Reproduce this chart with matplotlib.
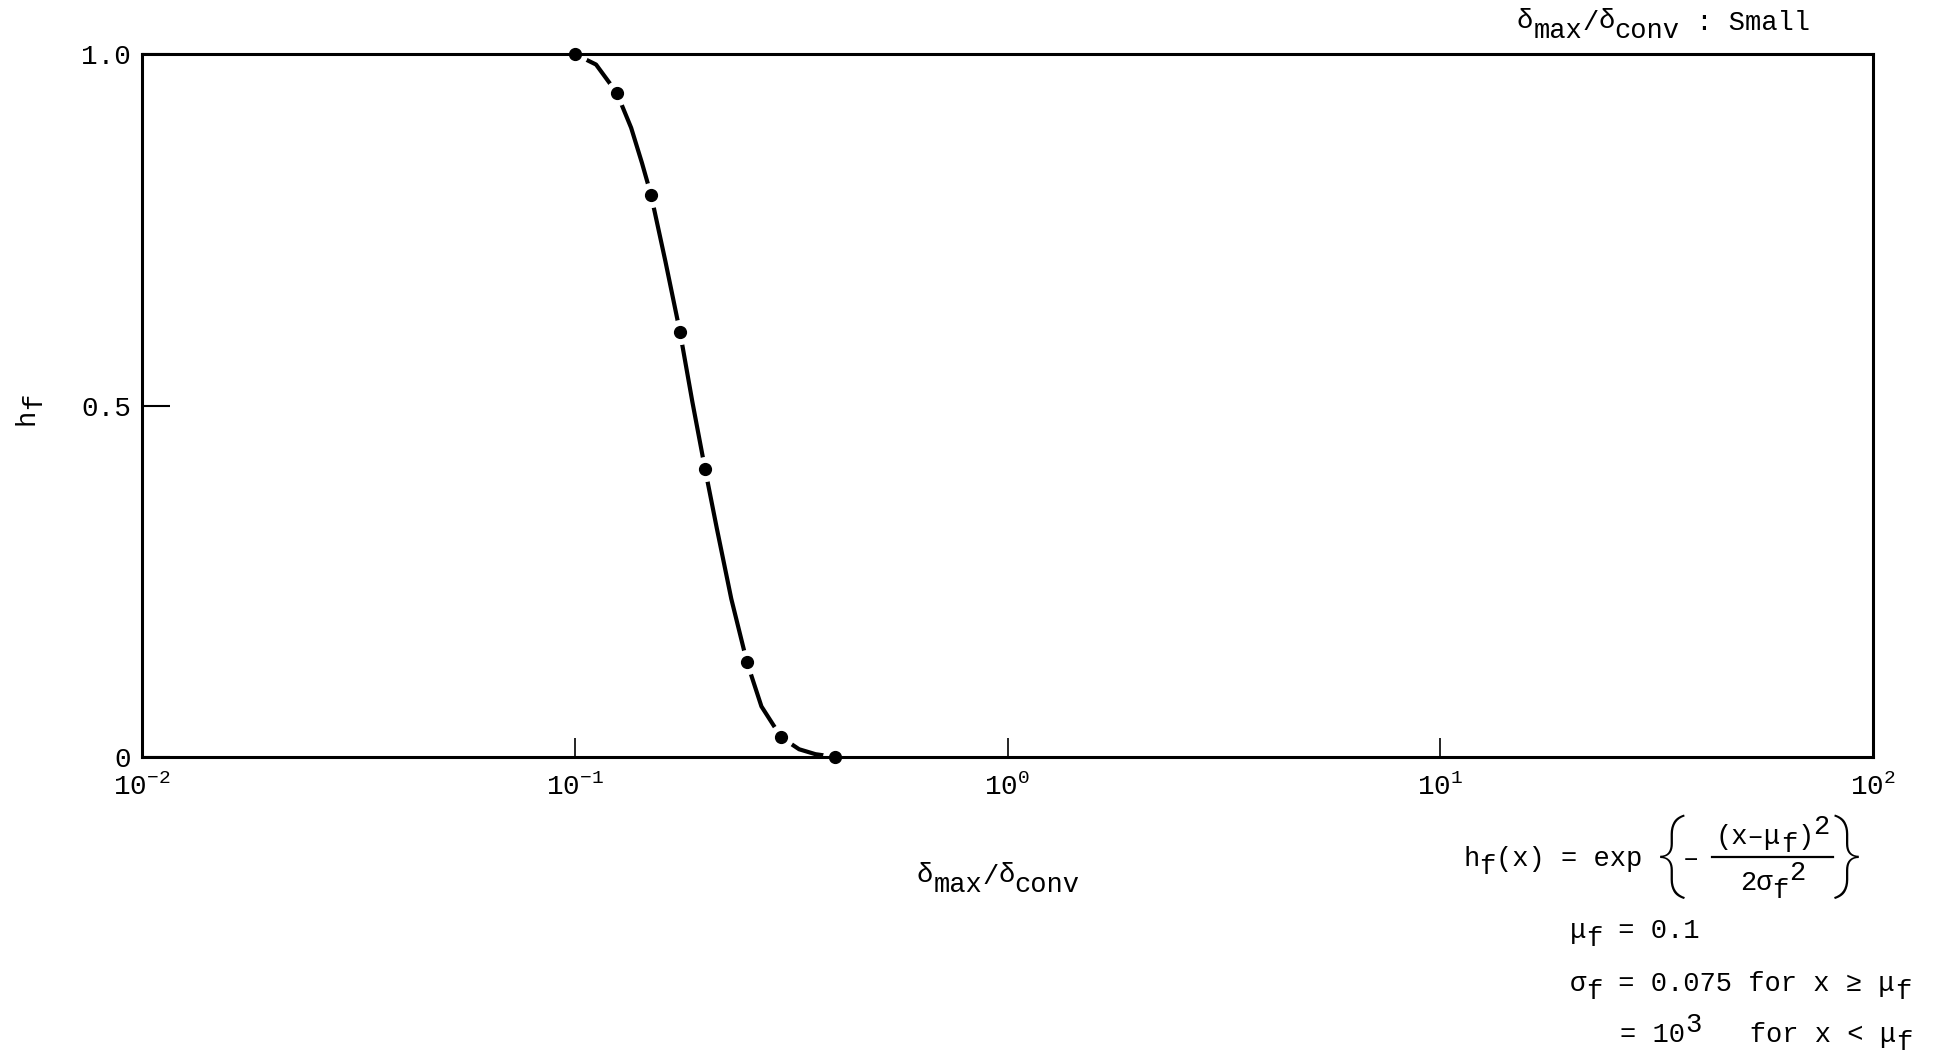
import matplotlib
matplotlib.use("Agg")
import matplotlib.pyplot as plt
from matplotlib.lines import Line2D
from matplotlib.ticker import FixedLocator, FixedFormatter, NullLocator

# ---------------------------------------------------------------------------
# Data
# ---------------------------------------------------------------------------
# plotted dots
ratio = [0.1, 0.125, 0.15, 0.175, 0.2, 0.25, 0.3, 0.4]
h_f = [1.0, 0.945, 0.80, 0.605, 0.41, 0.135, 0.028, 0.0]

# hand-drawn curve through the dots
curve_x = [0.1, 0.112, 0.125, 0.135, 0.143, 0.15, 0.162, 0.175, 0.187, 0.2,
           0.213, 0.23, 0.25, 0.27, 0.3, 0.33, 0.36, 0.4]
curve_y = [1.0, 0.985, 0.945, 0.895, 0.845, 0.80, 0.705, 0.605, 0.505, 0.41,
           0.325, 0.225, 0.135, 0.072, 0.028, 0.011, 0.004, 0.0]

x_ticks = [0.01, 0.1, 1.0, 10.0, 100.0]
x_tick_labels = [r"$10^{-2}$", r"$10^{-1}$", r"$10^{0}$", r"$10^{1}$", r"$10^{2}$"]
y_ticks = [0.0, 0.5, 1.0]
y_tick_labels = ["0", "0.5", "1.0"]

# ---------------------------------------------------------------------------
# Style: typewriter look
# ---------------------------------------------------------------------------
FONT = ["Liberation Mono", "DejaVu Sans Mono", "DejaVu Sans"]
plt.rcParams["font.family"] = FONT
plt.rcParams["mathtext.fontset"] = "custom"
plt.rcParams["mathtext.rm"] = "Liberation Mono"
plt.rcParams["mathtext.it"] = "Liberation Mono"
plt.rcParams["mathtext.bf"] = "Liberation Mono:bold"
plt.rcParams["mathtext.sf"] = "Liberation Mono"

W, H = 1937, 1057
SIZE = 19.5
PX = 100 / 72  # pixels per point

fig = plt.figure(figsize=(W / 100, H / 100), dpi=100)
ax = fig.add_axes([142 / W, 1 - 757 / H, (1873 - 142) / W, (757 - 54) / H])


def typed(x, y, pieces, size=SIZE, rotation=0):
    """Typewriter-style text: each piece is (string, baseline shift in em).

    x, y are pixels from the top-left; y is the baseline.
    """
    adv = 0.6 * size * PX
    pos = 0.0
    for s, shift in pieces:
        dy = shift * size * PX
        if rotation == 90:
            px, py = x - dy, y - pos
        else:
            px, py = x + pos, y - dy
        fig.text(px / W, 1 - py / H, s, fontsize=size, rotation=rotation,
                 ha="left", va="baseline", rotation_mode="anchor")
        pos += adv * len(s)


ax.set_xscale("log")
ax.set_xlim(0.01, 100)
ax.set_ylim(0, 1.0)

# curve, with small gaps around each dot
ax.plot(curve_x, curve_y, color="black", linewidth=3.0, zorder=3,
        clip_on=False, solid_capstyle="round")
ax.plot(ratio, h_f, linestyle="none", marker="o", markersize=17,
        color="white", zorder=4, clip_on=False)
ax.plot(ratio, h_f, linestyle="none", marker="o", markersize=8.5,
        color="black", zorder=5, clip_on=False)

for s in ax.spines.values():
    s.set_linewidth(2.2)
    s.set_zorder(6)

ax.xaxis.set_major_locator(FixedLocator(x_ticks))
ax.xaxis.set_major_formatter(FixedFormatter(x_tick_labels))
ax.xaxis.set_minor_locator(NullLocator())
ax.yaxis.set_major_locator(FixedLocator(y_ticks))
ax.yaxis.set_major_formatter(FixedFormatter(y_tick_labels))
ax.tick_params(axis="x", direction="in", length=14, width=1.2, labelsize=20, pad=12)
ax.tick_params(axis="y", direction="in", length=20, width=1.5, labelsize=20, pad=8)

SUB = -0.28
SUP = 0.38

# top-right title
typed(1517, 30, [("δ", 0.08), ("max", SUB), ("/", 0), ("δ", 0.08), ("conv", SUB),
                 (" : Small", 0)])

# axis labels
typed(917, 884, [("δ", 0.08), ("max", SUB), ("/", 0), ("δ", 0.08), ("conv", SUB)])
typed(34, 425, [("h", 0), ("f", SUB)], rotation=90)

# formula block
typed(1463, 866, [("h", 0), ("f", SUB), ("(x) = exp", 0)])
for bx, ch in [(1671, "{"), (1848, "}")]:
    fig.text(bx / W, 1 - 857 / H, ch, fontsize=62, ha="center", va="center",
             family=["Roboto", "DejaVu Sans"], fontweight="light")
typed(1683, 866, [("–", 0)])
typed(1716, 844, [("(x–μ", 0), ("f", SUB), (")", 0), ("2", SUP)])
fig.add_artist(Line2D([1712 / W, 1833 / W], [1 - 857 / H, 1 - 857 / H],
                      color="black", linewidth=1.6))
typed(1740, 890, [("2σ", 0), ("f", SUB), ("2", SUP)])

typed(1570, 938, [("μ", 0), ("f", SUB), (" = 0.1", 0)])
typed(1570, 991, [("σ", 0), ("f", SUB), (" = 0.075 for x ≥ μ", 0), ("f", SUB)])
typed(1620, 1042, [("= 10", 0), ("3", SUP), ("   for x < μ", 0), ("f", SUB)])

fig.savefig("out.png", dpi=100)
